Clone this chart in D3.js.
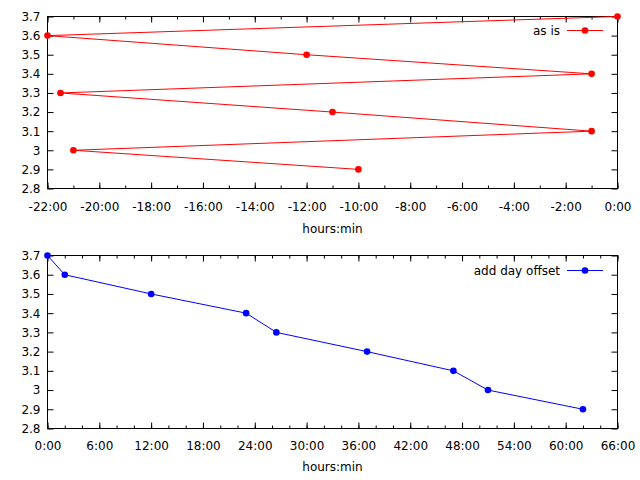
<!DOCTYPE html>
<html>
<head>
<meta charset="utf-8">
<script src="https://cdn.jsdelivr.net/npm/d3@7"></script>
<style>
  body { margin: 0; background: #fff; }
  text { font-family: 'DejaVu Sans', sans-serif; }
</style>
</head>
<body>
<div id="chart"></div>
<script>
//data, time in hours
const yValues = [3.7, 3.6, 3.5, 3.4, 3.3, 3.2, 3.1, 3.0, 2.9];
const asIsHours = [0, -22, -12, -1, -21.5, -11, -1, -21, -10];
const offsetHours = [0, 2, 12, 23, 26.5, 37, 47, 51, 62];

//ticks
const yTicks = [2.8, 2.9, 3.0, 3.1, 3.2, 3.3, 3.4, 3.5, 3.6, 3.7];
const topMajorTicks = [-22, -20, -18, -16, -14, -12, -10, -8, -6, -4, -2, 0];
const topMinorTicks = d3.range(-22, 1, 1);
const botMajorTicks = [0, 6, 12, 18, 24, 30, 36, 42, 48, 54, 60, 66];
const botMinorTicks = d3.range(0, 67, 2);

//measures
const width = 640;
const height = 480;
const left = 47.5;
const right = 617.5;
const fontSize = 12;

const svg = d3.select('#chart').append('svg')
    .attr('width', width)
    .attr('height', height);

drawPanel({
    xs: asIsHours, domain: [-22, 0], major: topMajorTicks, minor: topMinorTicks,
    top: 16.5, bottom: 188.5, labelPad: 14, xlabelY: 233,
    color: '#ff0000', legend: 'as is', legendY: 30.5
});
drawPanel({
    xs: offsetHours, domain: [0, 66], major: botMajorTicks, minor: botMinorTicks,
    top: 255.5, bottom: 428.5, labelPad: 12.5, xlabelY: 471,
    color: '#0000ff', legend: 'add day offset', legendY: 270.5
});

function hm(v) {
    const sign = v < 0 ? '-' : '';
    const a = Math.abs(v);
    const h = Math.floor(a + 1e-9);
    const m = Math.round((a - h) * 60);
    return sign + h + ':' + String(m).padStart(2, '0');
}

function styleAxis(g) {
    g.select('.domain').remove();
    g.selectAll('line').attr('stroke', '#000');
    g.selectAll('text')
        .attr('fill', '#000')
        .attr('font-size', fontSize)
        .attr('font-family', "'DejaVu Sans', sans-serif");
}

function drawPanel(p) {
    const x = d3.scaleLinear().domain(p.domain).range([left, right]);
    const y = d3.scaleLinear().domain([2.8, 3.7]).range([p.bottom, p.top]);
    const g = svg.append('g');

    //minor ticks bottom and top
    g.append('g').attr('transform', `translate(0,${p.bottom})`)
        .call(d3.axisBottom(x).tickValues(p.minor).tickSizeInner(-3).tickSizeOuter(0).tickFormat(''))
        .call(styleAxis);
    g.append('g').attr('transform', `translate(0,${p.top})`)
        .call(d3.axisTop(x).tickValues(p.minor).tickSizeInner(-3).tickSizeOuter(0).tickFormat(''))
        .call(styleAxis);

    //major ticks
    g.append('g').attr('transform', `translate(0,${p.bottom})`)
        .call(d3.axisBottom(x).tickValues(p.major).tickSizeInner(-6).tickSizeOuter(0)
            .tickPadding(p.labelPad).tickFormat(hm))
        .call(styleAxis);
    g.append('g').attr('transform', `translate(0,${p.top})`)
        .call(d3.axisTop(x).tickValues(p.major).tickSizeInner(-6).tickSizeOuter(0).tickFormat(''))
        .call(styleAxis);
    g.append('g').attr('transform', `translate(${left},0)`)
        .call(d3.axisLeft(y).tickValues(yTicks).tickSizeInner(-6).tickSizeOuter(0)
            .tickPadding(7).tickFormat(v => String(+v.toFixed(1))))
        .call(styleAxis);
    g.append('g').attr('transform', `translate(${right},0)`)
        .call(d3.axisRight(y).tickValues(yTicks).tickSizeInner(-6).tickSizeOuter(0).tickFormat(''))
        .call(styleAxis);

    //frame
    g.append('rect')
        .attr('x', left).attr('y', p.top)
        .attr('width', right - left).attr('height', p.bottom - p.top)
        .attr('fill', 'none').attr('stroke', '#000');

    //axis label
    g.append('text')
        .text('hours:min')
        .attr('x', (left + right) / 2)
        .attr('y', p.xlabelY)
        .attr('text-anchor', 'middle')
        .attr('font-size', fontSize);

    //series
    const pts = p.xs.map((v, i) => [v, yValues[i]]);
    g.append('path')
        .attr('d', d3.line().x(d => x(d[0])).y(d => y(d[1]))(pts))
        .attr('fill', 'none')
        .attr('stroke', p.color)
        .attr('stroke-width', 1);
    g.selectAll('circle.pt').data(pts).enter().append('circle')
        .attr('class', 'pt')
        .attr('cx', d => x(d[0]))
        .attr('cy', d => y(d[1]))
        .attr('r', 3.3)
        .attr('fill', p.color);

    //legend
    g.append('text')
        .text(p.legend)
        .attr('x', 560)
        .attr('y', p.legendY + 4.5)
        .attr('text-anchor', 'end')
        .attr('font-size', fontSize);
    g.append('line')
        .attr('x1', 567).attr('x2', 603)
        .attr('y1', p.legendY).attr('y2', p.legendY)
        .attr('stroke', p.color);
    g.append('circle')
        .attr('cx', 585).attr('cy', p.legendY)
        .attr('r', 3.3).attr('fill', p.color);
}
</script>
</body>
</html>
